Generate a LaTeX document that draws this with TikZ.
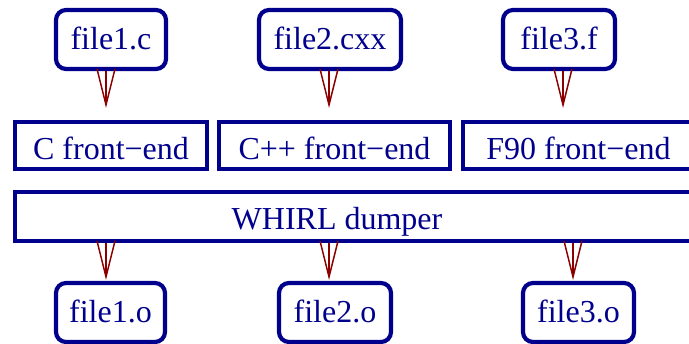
\documentclass[tikz,border=0pt]{standalone}
\usepackage{fontspec}
\setmainfont{Liberation Serif}
\newfontfamily\timesfam{Liberation Serif}
\usetikzlibrary{arrows.meta}
\definecolor{boxblue}{RGB}{0,0,140}
\definecolor{arrred}{RGB}{140,0,0}
\begin{document}
\begin{tikzpicture}[x=1pt,y=-1pt,
  every node/.style={font=\timesfam\fontsize{32}{38}\selectfont, text=boxblue, inner sep=0pt},
  filebox/.style={draw=boxblue, line width=4.2pt, rounded corners=10pt,
    minimum height=59pt, text height=22pt, text depth=1pt},
  febox/.style={draw=boxblue, line width=3.7pt, minimum height=47.5pt,
    text height=30pt, text depth=1pt},
  whirlbox/.style={draw=boxblue, line width=3.7pt, minimum height=49pt},
  arr/.style={draw=arrred, line width=1.5pt, -{Straight Barb[length=36pt,width=18pt]}}]
\clip (0,0) rectangle (689,344);
% source files
\node[filebox, minimum width=110pt] (f1c) at (111,39.5) {file1.c};
\node[filebox, minimum width=142pt] (f2c) at (330,39.5) {file2.cxx};
\node[filebox, minimum width=112pt] (f3f) at (559,39.5) {file3.f};
% front-ends
\node[febox, minimum width=192.5pt] (cfe) at (111,145.5) {C front−end};
\node[febox, minimum width=231.5pt] (cppfe) at (334.5,145.5) {C++ front−end};
\node[febox, minimum width=231pt] (ffe) at (578.5,145.5) {F90 front−end};
% WHIRL
\node[whirlbox, minimum width=680pt] (whirl) at (354.9,216.5) {};
\node[anchor=base] (whirltxt) at (337,230) {WHIRL dumper};
% object files
\node[filebox, minimum width=109pt] (f1o) at (110.5,312.5) {file1.o};
\node[filebox, minimum width=112pt] (f2o) at (335,312.5) {file2.o};
\node[filebox, minimum width=111pt] (f3o) at (578.5,312.5) {file3.o};
% arrow tips
\coordinate (t1) at (106,108);
\coordinate (t2) at (329,108);
\coordinate (t3) at (563,108);
\coordinate (b1) at (106,280);
\coordinate (b2) at (329,280);
\coordinate (b3) at (573,280);
\draw[arr] (f1c.south -| t1) -- (t1);
\draw[arr] (f2c.south -| t2) -- (t2);
\draw[arr] (f3f.south -| t3) -- (t3);
\draw[arr] (whirl.south -| b1) -- (b1);
\draw[arr] (whirl.south -| b2) -- (b2);
\draw[arr] (whirl.south -| b3) -- (b3);
\end{tikzpicture}
\end{document}
